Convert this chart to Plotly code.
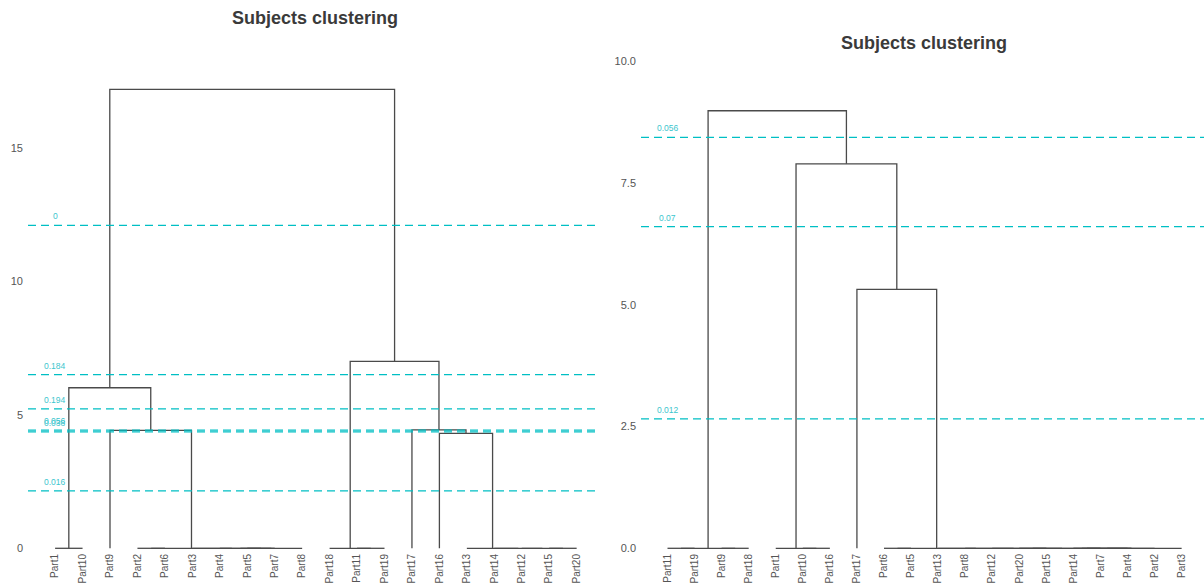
import plotly.graph_objects as go

W, H = 1204, 585

# ---- data -------------------------------------------------------------
# Leaf order along the x axis of each dendrogram
left_leaves = ["Part1", "Part10", "Part9", "Part2", "Part6", "Part3", "Part4",
               "Part5", "Part7", "Part8", "Part18", "Part11", "Part19", "Part17",
               "Part16", "Part13", "Part14", "Part12", "Part15", "Part20"]
right_leaves = ["Part11", "Part19", "Part9", "Part18", "Part1", "Part10", "Part16",
                "Part17", "Part6", "Part5", "Part13", "Part8", "Part12", "Part20",
                "Part15", "Part14", "Part7", "Part4", "Part2", "Part3"]

# Merge trees: (left child, right child, merge height)
left_tree = (
    (("Part1", "Part10", 0.0),
     ("Part9",
      (("Part2", "Part6", 0.0),
       ("Part3", (("Part4", ("Part5", "Part7", 0.0), 0.0), "Part8", 0.0), 0.0),
       0.0),
      4.42),
     6.02),
    (("Part18", ("Part11", "Part19", 0.0), 0.0),
     ("Part17",
      ("Part16",
       ("Part13", ("Part14", ("Part12", ("Part15", "Part20", 0.0), 0.0), 0.0), 0.0),
       4.31),
      4.44),
     7.01),
    17.21)

right_tree = (
    (("Part11", "Part19", 0.0), ("Part9", "Part18", 0.0), 0.0),
    (("Part1", ("Part10", "Part16", 0.0), 0.0),
     ("Part17",
      (("Part6", "Part5", 0.0),
       ("Part13",
        ("Part8",
         ("Part12",
          ((("Part20", "Part15", 0.0),
            ((("Part14", "Part7", 0.0), "Part4", 0.0), "Part2", 0.0),
            0.0),
           "Part3", 0.0),
          0.0),
         0.0),
        0.0),
       0.0),
      5.32),
     7.90),
    8.99)

# Values printed on the cut lines (from the highest cut down)
left_cut_labels = ["0", "0.184", "0.194", "0.056", "0.038", "0.016"]
right_cut_labels = ["0.056", "0.07", "0.012"]

left_yticks = [0, 5, 10, 15]
right_yticks = [0.0, 2.5, 5.0, 7.5, 10.0]

# ---- styling ----------------------------------------------------------
TREE_COLOR = "#4a4a4a"
CUT_COLOR = "#00BFC4"
CUT_TEXT = "#3cc6ce"
TEXT_COLOR = "#555555"
FONT = "Liberation Sans, Arial, sans-serif"


def tree_segments(tree, leaves):
    pos = {name: i + 1 for i, name in enumerate(leaves)}
    xs, ys, heights = [], [], []

    def walk(node):
        if isinstance(node, str):
            return pos[node], 0.0
        left, right, h = node
        xl, hl = walk(left)
        xr, hr = walk(right)
        xs.extend([xl, xl, xr, xr, None])
        ys.extend([hl, h, h, hr, None])
        heights.append(h)
        return (xl + xr) / 2.0, h

    walk(tree)
    return xs, ys, heights


def cut_heights(heights):
    levels = sorted(set(heights), reverse=True)
    return [(a + b) / 2.0 for a, b in zip(levels[:-1], levels[1:])]


fig = go.Figure()

panels = [
    dict(leaves=left_leaves, tree=left_tree, labels=left_cut_labels,
         xa="x", ya="y"),
    dict(leaves=right_leaves, tree=right_tree, labels=right_cut_labels,
         xa="x2", ya="y2"),
]

annotations = []
shapes = []
for p in panels:
    xs, ys, hs = tree_segments(p["tree"], p["leaves"])
    fig.add_trace(go.Scatter(
        x=xs, y=ys, mode="lines", xaxis=p["xa"], yaxis=p["ya"],
        line=dict(color=TREE_COLOR, width=1.3), hoverinfo="skip",
        showlegend=False, cliponaxis=False))
    for h, lab in zip(cut_heights(hs), p["labels"]):
        shapes.append(dict(
            type="line", xref=p["xa"] + " domain", yref=p["ya"],
            x0=0, x1=1, y0=h, y1=h,
            line=dict(color=CUT_COLOR, width=1.2, dash="8px,5px")))
        annotations.append(dict(
            x=1, y=h, xref=p["xa"], yref=p["ya"], text=lab, showarrow=False,
            xanchor="center", yanchor="bottom", yshift=2,
            font=dict(family=FONT, size=8.5, color=CUT_TEXT)))


# pixel geometry of the two panels
def px_x(v):
    return v / W


def px_y(v):
    return 1 - v / H


L_x0, L_x1, L_first, L_step = 28, 597, 55.1, 27.45
R_x0, R_x1, R_first, R_step = 641, 1204, 667.5, 27.06
Y_base, Y_bottom = 548.3, 551
L_top, L_scale = 30, 26.67
R_top, R_scale = 55, 48.67

axis_common = dict(ticks="", showgrid=False, zeroline=False, showline=False)

fig.update_layout(
    template="none",
    width=W, height=H,
    margin=dict(l=0, r=0, t=0, b=0),
    paper_bgcolor="white", plot_bgcolor="white",
    font=dict(family=FONT, color=TEXT_COLOR),
    showlegend=False,
    xaxis=dict(
        domain=[px_x(L_x0), px_x(L_x1)],
        range=[1 - (L_first - L_x0) / L_step, 1 + (L_x1 - L_first) / L_step],
        tickmode="array", tickvals=list(range(1, len(left_leaves) + 1)),
        ticktext=left_leaves, tickangle=-90,
        tickfont=dict(family=FONT, size=10, color=TEXT_COLOR),
        anchor="y", **axis_common),
    yaxis=dict(
        domain=[px_y(Y_bottom), px_y(L_top)],
        range=[-(Y_bottom - Y_base) / L_scale, (Y_base - L_top) / L_scale],
        tickmode="array", tickvals=left_yticks,
        ticktext=["{:g}".format(v) for v in left_yticks],
        tickfont=dict(family=FONT, size=11, color=TEXT_COLOR),
        ticklabelstandoff=4,
        anchor="x", **axis_common),
    xaxis2=dict(
        domain=[px_x(R_x0), px_x(R_x1)],
        range=[1 - (R_first - R_x0) / R_step, 1 + (R_x1 - R_first) / R_step],
        tickmode="array", tickvals=list(range(1, len(right_leaves) + 1)),
        ticktext=right_leaves, tickangle=-90,
        tickfont=dict(family=FONT, size=10, color=TEXT_COLOR),
        anchor="y2", **axis_common),
    yaxis2=dict(
        domain=[px_y(Y_bottom), px_y(R_top)],
        range=[-(Y_bottom - Y_base) / R_scale, (Y_base - R_top) / R_scale],
        tickmode="array", tickvals=right_yticks,
        ticktext=["{:.1f}".format(v) for v in right_yticks],
        tickfont=dict(family=FONT, size=11, color=TEXT_COLOR),
        ticklabelstandoff=4,
        anchor="x2", **axis_common),
    shapes=shapes,
)

for cx, cy in [(315, 18), (924, 43)]:
    annotations.append(dict(
        x=px_x(cx), y=px_y(cy), xref="paper", yref="paper",
        text="<b>Subjects clustering</b>", showarrow=False,
        xanchor="center", yanchor="middle",
        font=dict(family=FONT, size=18, color="#3a3a3a")))

fig.update_layout(annotations=annotations)

fig.write_html("out.html")
